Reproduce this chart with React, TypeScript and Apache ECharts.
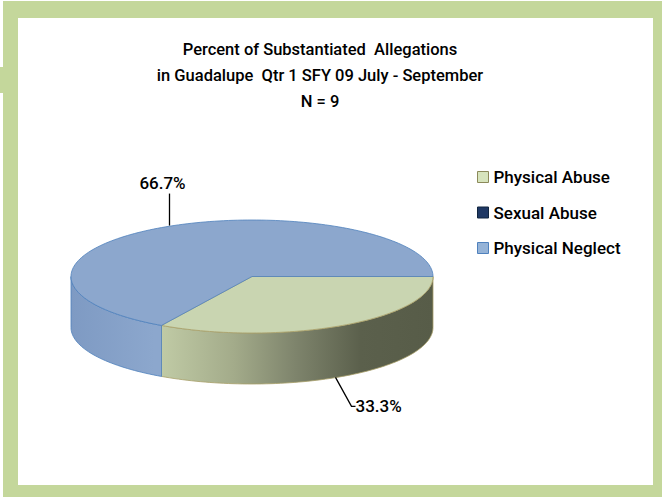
import React, { useEffect, useRef } from "react";
import * as echarts from "echarts";

// ---- data ----
const titleLines = [
  "Percent of Substantiated  Allegations",
  "in Guadalupe  Qtr 1 SFY 09 July - September",
  "N = 9",
];
const categories = ["Physical Abuse", "Sexual Abuse", "Physical Neglect"];
const counts = [3, 0, 6];

// ---- styles ----
const topColors = ["#C9D5B1", "#1F3864", "#8CA7CD"];
const legendColors = ["#D7E4BD", "#1F3864", "#95B3D7"];
const legendBorders = ["#8C8A5A", "#10253F", "#4F81BD"];
const edgeColors = ["#A8A06A", "#10253F", "#4F81BD"];
const sideStops = [
  [
    { offset: 0.22, color: "#C4CFA9" },
    { offset: 0.45, color: "#A3AB8A" },
    { offset: 0.62, color: "#7E846C" },
    { offset: 0.8, color: "#5B604C" },
    { offset: 1, color: "#575C48" },
  ],
  [
    { offset: 0, color: "#1F3864" },
    { offset: 1, color: "#1F3864" },
  ],
  [
    { offset: 0, color: "#7E9AC3" },
    { offset: 0.23, color: "#8CA7CD" },
    { offset: 1, color: "#8CA7CD" },
  ],
];

const FONT = "500 17px Roboto";
const GEO = { cx: 252, cy: 276.5, rx: 181, ry: 56.5, depth: 51, startAngle: 0 };

const total = counts.reduce((a, b) => a + b, 0);
const sliceData: number[][] = [];
{
  let acc = 0;
  counts.forEach((c) => {
    const a1 = GEO.startAngle + (acc / total) * 360;
    acc += c;
    const a2 = GEO.startAngle + (acc / total) * 360;
    sliceData.push([a1, a2, c, (c / total) * 100]);
  });
}

const rad = (d: number) => (d * Math.PI) / 180;
function pt(a: number, dy = 0): number[] {
  return [GEO.cx + GEO.rx * Math.cos(rad(a)), GEO.cy + GEO.ry * Math.sin(rad(a)) + dy];
}
function arc(a1: number, a2: number, dy = 0): number[][] {
  const n = Math.max(2, Math.ceil(Math.abs(a2 - a1) / 1.5));
  const out: number[][] = [];
  for (let i = 0; i <= n; i++) out.push(pt(a1 + ((a2 - a1) * i) / n, dy));
  return out;
}

function makeRender(idx: number) {
  return (params: any, api: any) => {
    const a1 = api.value(0);
    const a2 = api.value(1);
    const pct = api.value(3);
    if (a2 - a1 <= 0) return { type: "group", children: [] };
    const children: any[] = [];
    // side (front half only: 0..180 deg)
    const s1 = Math.max(a1, 0);
    const s2 = Math.min(a2, 180);
    if (s2 > s1) {
      const top = arc(s1, s2, 0);
      const bot = arc(s2, s1, GEO.depth);
      children.push({
        type: "polygon",
        shape: { points: top.concat(bot) },
        style: {
          fill: {
            type: "linear",
            x: GEO.cx - GEO.rx,
            y: 0,
            x2: GEO.cx + GEO.rx,
            y2: 0,
            global: true,
            colorStops: sideStops[idx],
          },
          stroke: edgeColors[idx],
          lineWidth: 0.8,
        },
      });
    }
    // top face
    children.push({
      type: "polygon",
      shape: { points: [[GEO.cx, GEO.cy]].concat(arc(a1, a2, 0)) },
      style: { fill: topColors[idx], stroke: edgeColors[idx], lineWidth: 0.8 },
    });
    // label
    const mid = (a1 + a2) / 2;
    const label = pct.toFixed(1) + "%";
    const midN = ((mid % 360) + 360) % 360;
    if (midN > 180) {
      const p = pt(mid, 0);
      const lx = p[0] + 8;
      children.push({
        type: "line",
        shape: { x1: lx, y1: p[1] - 2, x2: lx, y2: p[1] - 34 },
        style: { stroke: "#000", lineWidth: 1.3 },
      });
      children.push({
        type: "text",
        style: {
          x: lx - 7,
          y: p[1] - 36,
          text: label,
          font: FONT,
          fill: "#000",
          align: "center",
          verticalAlign: "bottom",
        },
      });
    } else {
      const p = pt(mid, GEO.depth);
      const ex = p[0] + 9;
      const ey = p[1] + 30;
      children.push({
        type: "polyline",
        shape: { points: [[p[0] - 7, p[1] + 1], [ex, ey], [ex + 4, ey]] },
        style: { stroke: "#000", lineWidth: 1.3, fill: null },
      });
      children.push({
        type: "text",
        style: {
          x: ex + 4,
          y: ey,
          text: label,
          font: FONT,
          fill: "#000",
          align: "left",
          verticalAlign: "middle",
        },
      });
    }
    return { type: "group", children };
  };
}

export default function App() {
  const ref = useRef<HTMLDivElement>(null);
  useEffect(() => {
    if (!ref.current) return;
    const chart = echarts.init(ref.current, null, { renderer: "svg" });
    chart.setOption({
      animation: false,
      backgroundColor: "#ffffff",
      graphic: [
        { type: "rect", z: -10, shape: { x: 3, y: 1, width: 659, height: 496 }, style: { fill: "#C4D79B" } },
        { type: "rect", z: -10, shape: { x: 0, y: 67, width: 3, height: 26 }, style: { fill: "#C4D79B" } },
        { type: "rect", z: -9, shape: { x: 18, y: 18, width: 635, height: 467 }, style: { fill: "#ffffff" } },
        {
          type: "text",
          z: 5,
          style: {
            x: 320,
            y: 36,
            text: titleLines.join("\n"),
            font: "500 16.5px Roboto",
            lineHeight: 26,
            fill: "#000",
            align: "center",
            verticalAlign: "top",
          },
        },
      ],
      legend: {
        orient: "vertical",
        left: 477,
        top: 167,
        padding: 0,
        itemWidth: 11,
        itemHeight: 11,
        itemGap: 15.5,
        icon: "rect",
        textStyle: { fontFamily: "Roboto", fontSize: 17, fontWeight: 500, color: "#000", lineHeight: 20 },
        data: categories.map((c, i) => ({
          name: c,
          itemStyle: { color: legendColors[i], borderColor: legendBorders[i], borderWidth: 1 },
        })),
      },
      series: categories.map((c, i) => ({
        type: "custom",
        name: c,
        coordinateSystem: "none",
        itemStyle: { color: legendColors[i] },
        renderItem: makeRender(i),
        data: [sliceData[i]],
      })),
    });
    return () => chart.dispose();
  }, []);
  return (
    <div
      ref={ref}
      style={{ position: "absolute", left: 0, top: 0, width: 662, height: 497 }}
    />
  );
}
